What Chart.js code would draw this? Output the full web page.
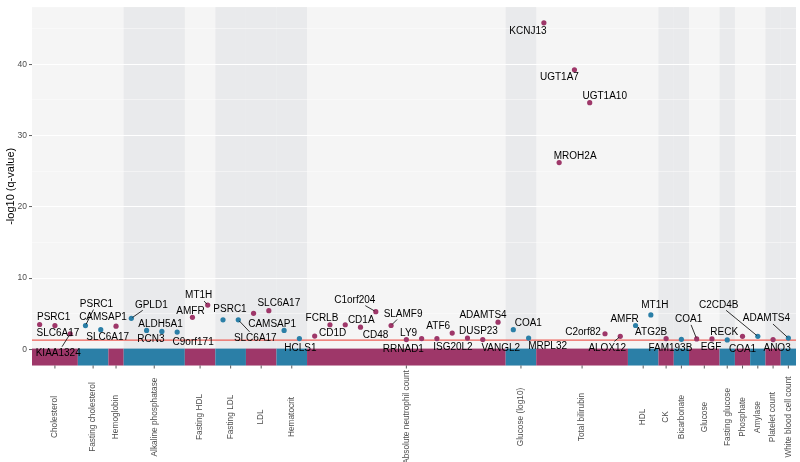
<!DOCTYPE html>
<html>
<head>
<meta charset="utf-8">
<script src="https://cdn.jsdelivr.net/npm/chart.js@4.4.0/dist/chart.umd.min.js"></script>
<style>
  html, body { margin: 0; padding: 0; background: #fff; }
  #wrap { width: 800px; height: 462px; }
</style>
</head>
<body>
<div id="wrap"><canvas id="manhattan"></canvas></div>
<script>
// traits along the x axis, how many genes each one has, and which get the grey backdrop
const categories = ["Cholesterol", "Fasting cholesterol", "Hemoglobin", "Alkaline phosphatase",
  "Fasting HDL", "Fasting LDL", "LDL", "Hematocrit", "Absolute neutrophil count", "Glucose (log10)",
  "Total bilirubin", "HDL", "CK", "Bicarbonate", "Glucose", "Fasting glucose", "Phosphate",
  "Amylase", "Platelet count", "White blood cell count"];
const categorySizes = [3, 2, 1, 4, 2, 2, 2, 2, 13, 2, 6, 2, 1, 1, 2, 1, 1, 1, 1, 1];
const shadedCategories = [false, false, false, true, false, true, true, true, false, true,
  false, false, true, true, false, true, false, false, true, true];

const genes = ["PSRC1", "SLC6A17", "KIAA1324",
  "PSRC1", "SLC6A17",
  "CAMSAP1",
  "GPLD1", "ALDH5A1", "RCN3", "C9orf171",
  "AMFR", "MT1H",
  "PSRC1", "SLC6A17",
  "", "SLC6A17",
  "CAMSAP1", "HCLS1",
  "CD1D", "FCRLB", "CD1A", "CD48", "C1orf204", "SLAMF9", "RRNAD1", "LY9", "ISG20L2", "ATF6", "DUSP23", "VANGL2", "ADAMTS4",
  "COA1", "MRPL32",
  "KCNJ13", "MROH2A", "UGT1A7", "UGT1A10", "C2orf82", "ALOX12",
  "AMFR", "MT1H",
  "ATG2B",
  "FAM193B",
  "COA1", "EGF",
  "RECK",
  "COA1",
  "C2CD4B",
  "ANO3",
  "ADAMTS4"];

// -log10(q-value) per gene
const logQ = [3.5, 3.35, 2.2,
  3.35, 2.77,
  3.27,
  4.37, 2.67, 2.53, 2.43,
  4.5, 6.22,
  4.15, 4.15,
  5.06, 5.43,
  2.67, 1.52,
  1.88, 3.46, 3.46, 3.13, 5.3, 3.36, 1.38, 1.52, 1.52, 2.3, 1.6, 1.38, 3.82,
  2.77, 1.6,
  45.8, 26.2, 39.2, 34.6, 2.2, 1.84,
  3.36, 4.84,
  1.52,
  1.42,
  1.48, 1.48,
  1.34,
  1.84,
  1.84,
  1.38,
  1.6];

const yTicks = [0, 5, 10, 15, 20, 25, 30, 35, 40, 45];
const yTickLabels = ["0", "", "10", "", "20", "", "30", "", "40", ""];
const threshold = 1.3; // q = 0.05

// where each gene label sits relative to its point (px), third value = draw a leader line
const labelNudge = [
  [14, -8, 0], [3, 7, 0], [-12, 19, 1],
  [11, -22, 1], [7, 7, 0],
  [-13, -9, 0],
  [20, -14, 1], [14, -7, 0], [-11, 7, 0], [16, 10, 0],
  [-2, -7, 0], [-9, -10, 1],
  [7, -11, 0], [17, 18, 1],
  null, [10, -8, 0],
  [-12, -7, 0], [1, 9, 0],
  [18, -3, 0], [-8, -7, 0], [16, -5, 0], [15, 8, 0], [-21, -12, 1], [12, -12, 1], [-3, 9, 0],
  [-13, -6, 0], [16, 8, 0], [-14, -7, 0], [11, -7, 0], [18, 8, 0], [-15, -7, 0],
  [15, -7, 0], [19, 8, 0],
  [-16, 8, 0], [16, -7, 0], [-15, 7, 0], [15, -7, 0], [-22, -2, 0], [-13, 11, 1],
  [-11, -7, 0], [4, -10, 0],
  [-15, -7, 0],
  [-11, 8, 0],
  [-8, -20, 1], [-1, 8, 0],
  [-3, -8, 0],
  [0, 12, 0],
  [-39, -32, 1],
  [4, 8, 0],
  [-22, -20, 1]
];

const MAGENTA = "#9e3769";
const BLUE = "#2b7fa7";
const FONT = "'Liberation Sans', Arial, sans-serif";

const catStart = [];
const catOf = [];
let acc = 0;
categorySizes.forEach((n, c) => {
  catStart.push(acc);
  for (let i = 0; i < n; i++) catOf.push(c);
  acc += n;
});
const colorOf = c => (c % 2 === 0 ? MAGENTA : BLUE);

const points = logQ.map((v, i) => ({ x: i + 0.5, y: v }));

const manhattanPlugin = {
  id: "manhattan",
  beforeDraw(chart) {
    const { ctx, chartArea: a, scales: { x } } = chart;
    ctx.save();
    ctx.fillStyle = "#f5f5f5";
    ctx.fillRect(a.left, a.top, a.width, a.height);
    ctx.fillStyle = "#e9eaec";
    categories.forEach((c, i) => {
      if (!shadedCategories[i]) return;
      const x0 = x.getPixelForValue(catStart[i]);
      const x1 = x.getPixelForValue(catStart[i] + categorySizes[i]);
      ctx.fillRect(x0, a.top, x1 - x0, a.height);
    });
    ctx.restore();
  },
  beforeDatasetsDraw(chart) {
    const { ctx, chartArea: a, scales: { x, y } } = chart;
    ctx.save();
    const top = y.getPixelForValue(0.12);
    categories.forEach((c, i) => {
      const x0 = x.getPixelForValue(catStart[i]);
      const x1 = x.getPixelForValue(catStart[i] + categorySizes[i]);
      ctx.fillStyle = colorOf(i);
      ctx.fillRect(x0, top, x1 - x0, a.bottom - top);
    });
    const ty = y.getPixelForValue(threshold);
    ctx.strokeStyle = "#ee5f57";
    ctx.lineWidth = 1.2;
    ctx.beginPath();
    ctx.moveTo(a.left, ty);
    ctx.lineTo(a.right, ty);
    ctx.stroke();
    ctx.restore();
  },
  afterDatasetsDraw(chart) {
    const { ctx } = chart;
    const meta = chart.getDatasetMeta(0);
    ctx.save();
    ctx.font = "10px " + FONT;
    ctx.textAlign = "center";
    ctx.textBaseline = "middle";
    meta.data.forEach((pt, i) => {
      const nudge = labelNudge[i];
      if (!nudge || !genes[i]) return;
      const lx = pt.x + nudge[0], ly = pt.y + nudge[1];
      if (nudge[2]) {
        const hw = ctx.measureText(genes[i]).width / 2 + 1, hh = 6;
        const dx = pt.x - lx, dy = pt.y - ly;
        const t = Math.min(hw / Math.max(Math.abs(dx), 1e-6), hh / Math.max(Math.abs(dy), 1e-6));
        const len = Math.hypot(dx, dy);
        ctx.beginPath();
        ctx.moveTo(lx + dx * t, ly + dy * t);
        ctx.lineTo(pt.x - dx / len * 1.5, pt.y - dy / len * 1.5);
        ctx.strokeStyle = "#000";
        ctx.lineWidth = 0.8;
        ctx.stroke();
      }
      ctx.fillStyle = "#000";
      ctx.fillText(genes[i], lx, ly + 0.5);
    });
    ctx.restore();
  },
  afterDraw(chart) {
    const { ctx, chartArea: a, scales: { x } } = chart;
    ctx.save();
    ctx.font = "8.3px " + FONT;
    ctx.fillStyle = "#4d4d4d";
    ctx.strokeStyle = "#333";
    ctx.lineWidth = 0.8;
    ctx.textAlign = "center";
    ctx.textBaseline = "middle";
    categories.forEach((c, i) => {
      const cx = x.getPixelForValue(catStart[i] + categorySizes[i] / 2);
      ctx.beginPath();
      ctx.moveTo(cx, a.bottom);
      ctx.lineTo(cx, a.bottom + 3);
      ctx.stroke();
      ctx.save();
      ctx.translate(cx, 417);
      ctx.rotate(-Math.PI / 2);
      ctx.fillText(c, 0, 0);
      ctx.restore();
    });
    ctx.restore();
  }
};

Chart.defaults.font.family = FONT;

new Chart(document.getElementById("manhattan"), {
  type: "scatter",
  data: {
    datasets: [{
      data: points,
      pointRadius: 2.6,
      pointBorderWidth: 0,
      pointBackgroundColor: catOf.map(colorOf),
      pointBorderColor: catOf.map(colorOf)
    }]
  },
  plugins: [manhattanPlugin],
  options: {
    responsive: true,
    maintainAspectRatio: false,
    animation: false,
    layout: { padding: { top: 2, right: 2.5, bottom: 96.5, left: 0 } },
    plugins: {
      legend: { display: false },
      tooltip: { enabled: false }
    },
    scales: {
      x: {
        type: "linear",
        min: 0,
        max: categorySizes.reduce((s, n) => s + n, 0),
        display: false
      },
      y: {
        type: "linear",
        min: -2.25,
        max: 48,
        afterBuildTicks: s => { s.ticks = yTicks.map(v => ({ value: v })); },
        afterFit: s => { s.width = 32; },
        border: { display: false },
        grid: {
          color: c => (c.tick && c.tick.value % 10 === 0 ? "#ffffff" : "rgba(255,255,255,0.75)"),
          lineWidth: c => (c.tick && c.tick.value % 10 === 0 ? 1.1 : 0.6),
          tickColor: c => (c.tick && c.tick.value % 10 === 0 ? "#333333" : "rgba(0,0,0,0)"),
          tickLength: 3,
          tickWidth: 0.8
        },
        ticks: {
          color: "#4d4d4d",
          font: { size: 8.5 },
          padding: 2,
          callback: v => yTickLabels[yTicks.indexOf(v)]
        },
        title: {
          display: true,
          text: "-log10 (q-value)",
          color: "#000",
          font: { size: 11 },
          padding: { top: 4, bottom: 0 }
        }
      }
    }
  }
});
</script>
</body>
</html>
